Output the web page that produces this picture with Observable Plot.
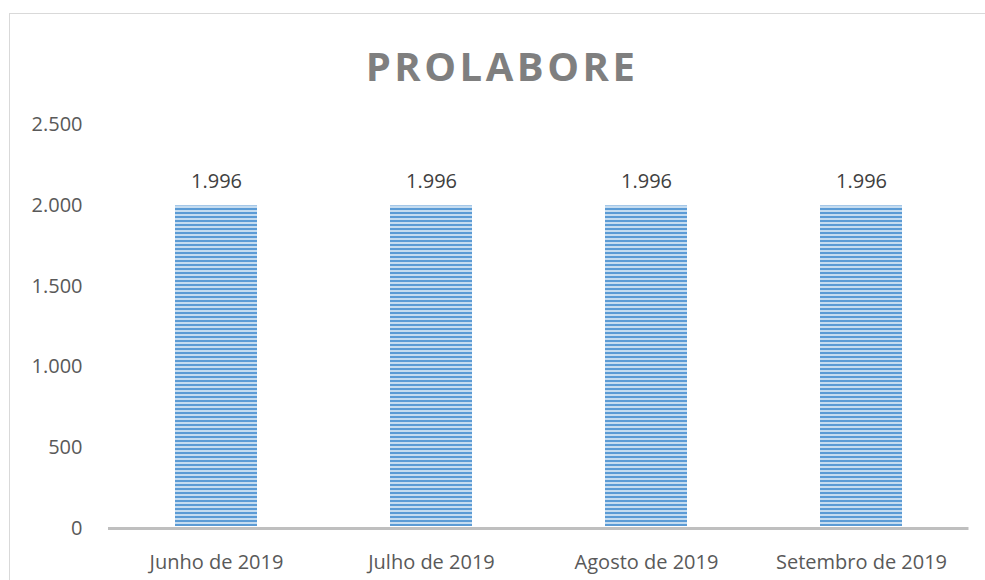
<!DOCTYPE html>
<html>
<head>
<meta charset="utf-8">
<script src="https://cdn.jsdelivr.net/npm/d3@7"></script>
<script src="https://cdn.jsdelivr.net/npm/@observablehq/plot@0.6"></script>
<style>
  html, body { margin: 0; padding: 0; background: #fff; }
  #wrap { position: relative; width: 985px; height: 580px; overflow: hidden; font-family: "Open Sans", sans-serif; }
  #frame { position: absolute; left: 9px; top: 13px; width: 990px; height: 600px; border: 1.5px solid #d9d9d9; box-sizing: border-box; }
  #title { position: absolute; left: 0; width: 1004px; top: 39px; text-align: center; font-size: 40px; font-weight: 700; color: #7f7f7f; letter-spacing: 3.5px; line-height: 54px; }
  #chart { position: absolute; left: 0; top: 0; }
</style>
</head>
<body>
<div id="wrap">
  <div id="frame"></div>
  <div id="title">PROLABORE</div>
  <div id="chart"></div>
</div>
<script>
const months = ["Junho de 2019", "Julho de 2019", "Agosto de 2019", "Setembro de 2019"];
const values = [1996, 1996, 1996, 1996];
const yTicks = [0, 500, 1000, 1500, 2000, 2500];

const data = months.map((m, i) => ({month: m, value: values[i]}));
const br = d3.formatLocale({decimal: ",", thousands: ".", grouping: [3], currency: ["", ""]});
const fmt = br.format(",d");

const plot = Plot.plot({
  width: 985,
  height: 580,
  marginLeft: 108,
  marginRight: 16.5,
  marginTop: 124,
  marginBottom: 52,
  style: {fontFamily: "Open Sans, sans-serif", fontSize: "20px", color: "#595959", background: "transparent"},
  x: {domain: months, paddingInner: 0.62, paddingOuter: 0.31, label: null},
  y: {domain: [0, 2500], label: null},
  marks: [
    Plot.barY(data, {x: "month", y: "value", fill: "url(#stripes)", insetBottom: 2}),
    Plot.ruleY([0], {stroke: "#bfbfbf", strokeWidth: 3}),
    Plot.text(data, {x: "month", y: "value", text: d => fmt(d.value), dy: -24, fill: "#404040", fontSize: 20}),
    Plot.axisY({ticks: yTicks, tickFormat: fmt, tickSize: 0, tickPadding: 26, fontSize: 20, fill: "#595959"}),
    Plot.axisX({tickSize: 0, tickPadding: 26, fontSize: 20, fill: "#595959"})
  ]
});

const svg = d3.select(plot);
const defs = svg.insert("defs", ":first-child");
const pat = defs.append("pattern")
  .attr("id", "stripes").attr("patternUnits", "userSpaceOnUse")
  .attr("width", 8).attr("height", 4);
pat.append("rect").attr("width", 8).attr("height", 4).attr("fill", "#c5dcf0");
pat.append("rect").attr("y", 0).attr("width", 8).attr("height", 2).attr("fill", "#5b9bd5");

document.getElementById("chart").appendChild(plot);
</script>
</body>
</html>
